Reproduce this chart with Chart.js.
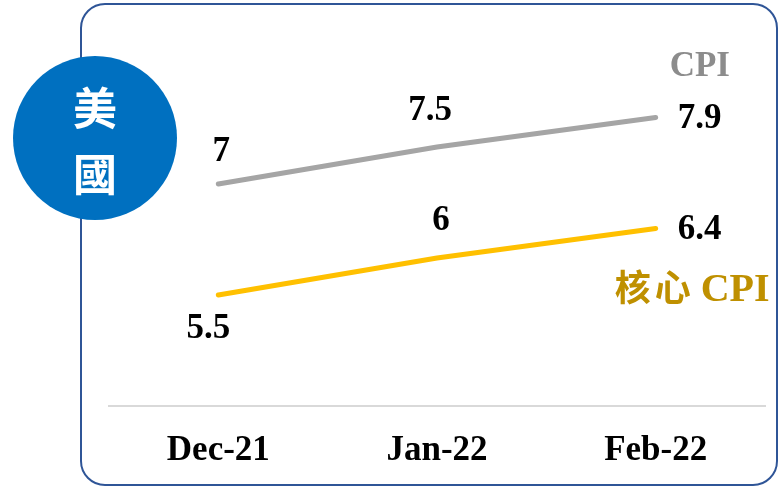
<!DOCTYPE html>
<html>
<head>
<meta charset="utf-8">
<script src="https://cdn.jsdelivr.net/npm/chart.js@4.4.1/dist/chart.umd.min.js"></script>
<style>
  html, body { margin: 0; padding: 0; background: #fff; }
  #wrap { width: 779px; height: 488px; position: relative; }
</style>
</head>
<body>
<div id="wrap"><canvas id="cpiChart" width="779" height="488"></canvas></div>
<script>
// months and CPI readings (YoY %)
const months = ['Dec-21', 'Jan-22', 'Feb-22'];
const cpi = [7, 7.5, 7.9];
const coreCpi = [5.5, 6, 6.4];

const SERIF = "'Liberation Serif', 'Times New Roman', serif";
const CJK = "'Noto Sans CJK TC', 'Noto Sans CJK SC', sans-serif";

// where each value label sits relative to its point: [dx, dy, align]
const cpiLabelPos = [[3, -32, 'center'], [-7, -36, 'center'], [22, 2, 'left']];
const coreLabelPos = [[-10, 34, 'center'], [4, -37, 'center'], [22, 2, 'left']];

const framePlugin = {
  id: 'frame',
  beforeDraw(chart) {
    const ctx = chart.ctx;
    ctx.save();
    ctx.strokeStyle = '#2f5597';
    ctx.lineWidth = 2;
    ctx.beginPath();
    ctx.roundRect(81, 4, 696, 481, 24);
    ctx.stroke();
    ctx.restore();
  },
  afterDraw(chart) {
    const ctx = chart.ctx;
    ctx.save();
    // value labels
    ctx.font = 'bold 35px ' + SERIF;
    ctx.fillStyle = '#000';
    ctx.textBaseline = 'middle';
    [[0, cpi, cpiLabelPos], [1, coreCpi, coreLabelPos]].forEach(([i, vals, pos]) => {
      chart.getDatasetMeta(i).data.forEach((pt, j) => {
        ctx.textAlign = pos[j][2];
        ctx.fillText(String(vals[j]), pt.x + pos[j][0], pt.y + pos[j][1]);
      });
    });
    // series names next to the last points
    const lastCpi = chart.getDatasetMeta(0).data[2];
    const lastCore = chart.getDatasetMeta(1).data[2];
    ctx.textAlign = 'left';
    ctx.fillStyle = '#8c8c8c';
    ctx.fillText('CPI', lastCpi.x + 14, lastCpi.y - 50);
    ctx.fillStyle = '#bf9000';
    ctx.font = 'bold 40px ' + SERIF;
    ctx.fillText('CPI', lastCore.x + 45, lastCore.y + 62);
    ctx.font = 'bold 36px ' + CJK;
    ctx.letterSpacing = '4px';
    ctx.fillText('核心', lastCore.x - 41, lastCore.y + 59);
    ctx.letterSpacing = '0px';
    // country badge
    ctx.fillStyle = '#0070c0';
    ctx.beginPath();
    ctx.arc(95, 138, 82, 0, Math.PI * 2);
    ctx.fill();
    ctx.fillStyle = '#fff';
    ctx.textAlign = 'center';
    ctx.font = 'bold 44px ' + CJK;
    ctx.fillText('美', 95, 108);
    ctx.fillText('國', 95, 174);
    ctx.restore();
  }
};

new Chart(document.getElementById('cpiChart'), {
  type: 'line',
  data: {
    labels: months,
    datasets: [
      { label: 'CPI', data: cpi, borderColor: '#a5a5a5', borderWidth: 5, borderCapStyle: 'round', pointRadius: 0, tension: 0 },
      { label: '核心CPI', data: coreCpi, borderColor: '#ffc000', borderWidth: 5, borderCapStyle: 'round', pointRadius: 0, tension: 0 }
    ]
  },
  options: {
    responsive: false,
    animation: false,
    layout: { padding: { left: 109, right: 14, top: 36, bottom: 0 } },
    plugins: { legend: { display: false }, tooltip: { enabled: false } },
    scales: {
      x: {
        offset: true,
        grid: { display: false, drawTicks: false },
        border: { display: true, color: '#d9d9d9', width: 2 },
        ticks: { color: '#000', font: { family: SERIF, size: 35, weight: 'bold' }, padding: 24 },
        afterFit(axis) { axis.height = 82; }
      },
      y: {
        display: false,
        min: 4,
        max: 9
      }
    }
  },
  plugins: [framePlugin]
});
</script>
</body>
</html>
